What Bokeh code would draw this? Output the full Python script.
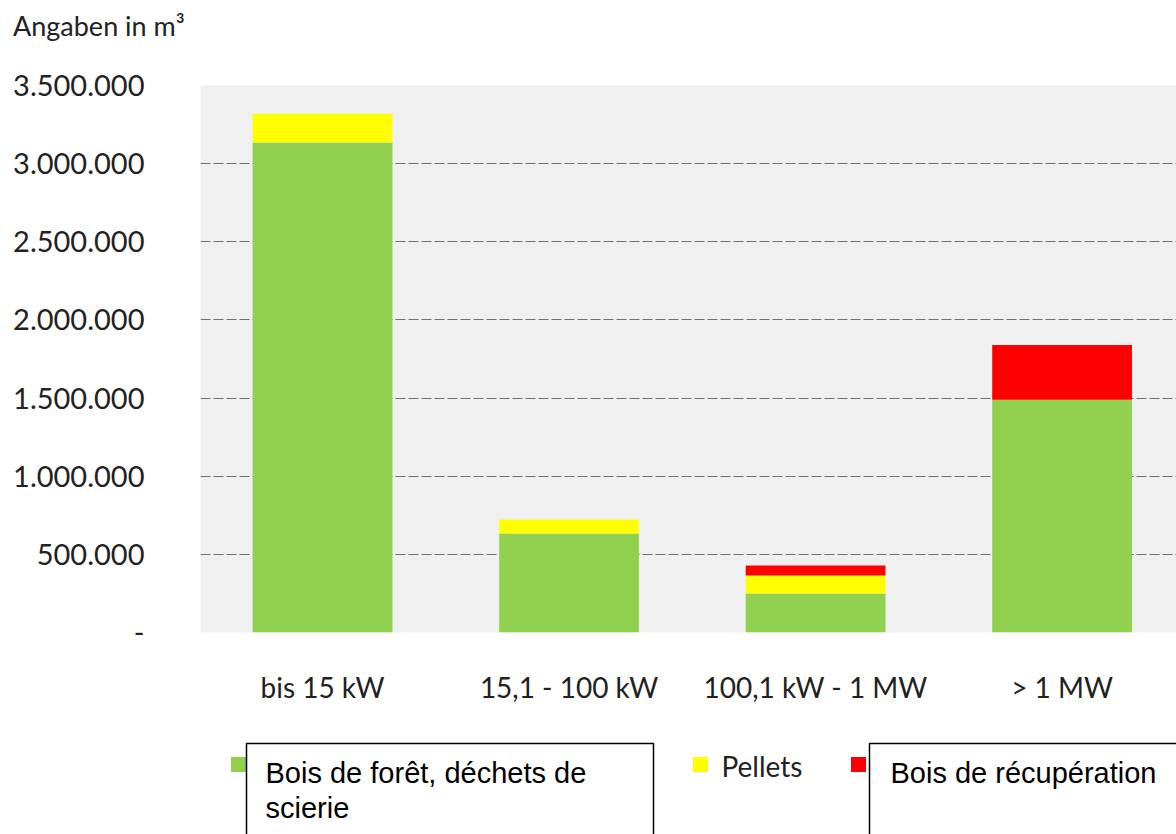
from bokeh.plotting import figure
from bokeh.models import Range1d, FixedTicker, ColumnDataSource, Div
from bokeh.layouts import column
from bokeh.embed import file_html
from bokeh.resources import INLINE
from bokeh.core.properties import value

# ---------------- data ----------------
categories = ["bis 15 kW", "15,1 - 100 kW", "100,1 kW - 1 MW", "> 1 MW"]
series_names = ["Bois de forêt, déchets de scierie", "Pellets", "Bois de récupération"]
bois_foret = [3135000, 633000, 250000, 1490000]
pellets = [185000, 90000, 115000, 0]
bois_recup = [0, 0, 64000, 350000]
colors = ["#92D050", "#FFFF00", "#FF0000"]
y_ticks = [0, 500000, 1000000, 1500000, 2000000, 2500000, 3000000, 3500000]
y_tick_labels = ["-", "500.000", "1.000.000", "1.500.000", "2.000.000",
                 "2.500.000", "3.000.000", "3.500.000"]
unit_title = "Angaben in m³"

AXIS_FONT = "Lato"
BOX_FONT = "Liberation Sans"

# ---------------- title strip ----------------
head = Div(text=unit_title, width=1176, height=55,
           styles={"font-family": "Lato", "font-size": "27px",
                   "color": "#222222", "line-height": "1.2",
                   "padding": "10px 0px 0px 13px", "margin": "0px",
                   "box-sizing": "border-box"})

# ---------------- main chart ----------------
xs = list(range(len(categories)))
src = ColumnDataSource(dict(x=xs, s0=bois_foret, s1=pellets, s2=bois_recup))

p = figure(width=1176, height=680, output_backend="svg", toolbar_location=None,
           x_range=Range1d(-0.495, 3.464), y_range=Range1d(0, 3500000),
           min_border_left=200, min_border_right=0, min_border_top=30,
           min_border_bottom=103)

p.background_fill_color = "#f0f0f0"
p.border_fill_color = "white"
p.outline_line_color = None

p.vbar_stack(["s0", "s1", "s2"], x="x", width=0.567, source=src,
             color=colors, line_color=None)

p.xgrid.visible = False
p.ygrid.ticker = FixedTicker(ticks=y_ticks)
p.ygrid.grid_line_color = "#707070"
p.ygrid.grid_line_dash = "10 3"
p.ygrid.grid_line_width = 1

p.yaxis.ticker = FixedTicker(ticks=y_ticks)
p.yaxis.major_label_overrides = {t: l for t, l in zip(y_ticks, y_tick_labels)}
p.yaxis.axis_line_color = None
p.yaxis.major_tick_line_color = None
p.yaxis.minor_tick_line_color = None
p.yaxis.major_label_standoff = 50
p.yaxis.major_label_text_font = AXIS_FONT
p.yaxis.major_label_text_font_size = "29px"
p.yaxis.major_label_text_color = "#222222"

p.xaxis.ticker = FixedTicker(ticks=xs)
p.xaxis.major_label_overrides = {i: c for i, c in zip(xs, categories)}
p.xaxis.axis_line_color = None
p.xaxis.major_tick_line_color = None
p.xaxis.minor_tick_line_color = None
p.xaxis.major_label_standoff = 31
p.xaxis.major_label_text_font = AXIS_FONT
p.xaxis.major_label_text_font_size = "28px"
p.xaxis.major_label_text_color = "#222222"

# ---------------- legend strip (page pixel coordinates) ----------------
q = figure(width=1176, height=99, output_backend="svg", toolbar_location=None,
           x_range=Range1d(200, 1176), y_range=Range1d(99, 0),
           min_border_left=200, min_border_right=0,
           min_border_top=0, min_border_bottom=0)
q.axis.visible = False
q.grid.visible = False
q.outline_line_color = None
q.background_fill_color = "white"
q.border_fill_color = "white"

# legend markers
q.scatter(x=[238, 700, 858], y=[29, 29, 29], marker="square", size=15,
          color=colors, line_color=None)
q.text(x=[721], y=[30], text=[series_names[1]], text_font=value(AXIS_FONT),
       text_font_size="28px", text_baseline="middle", text_align="left",
       text_color="#222222")

# overlaid text boxes
q.quad(left=[246, 869], right=[653, 1200], top=[8, 8], bottom=[140, 140],
       fill_color="white", line_color="black", line_width=1.5)
q.text(x=[265, 265, 890], y=[37, 72, 37],
       text=["Bois de forêt, déchets de", "scierie", series_names[2]],
       text_font=value(BOX_FONT), text_font_size="29px",
       text_baseline="middle", text_align="left", text_color="black")

layout = column(head, p, q, spacing=0)
open("out.html", "w").write(file_html(layout, INLINE))
